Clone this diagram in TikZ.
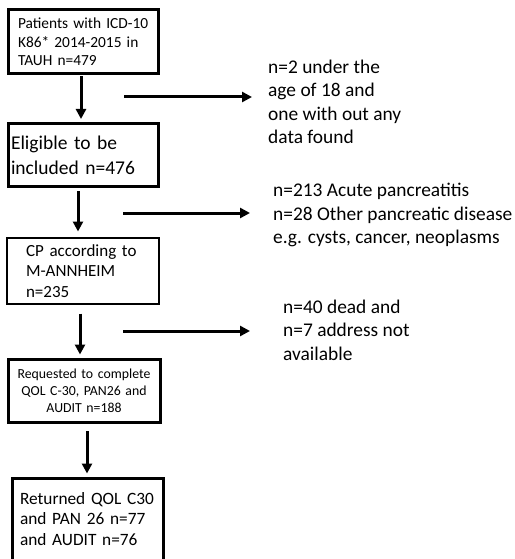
\documentclass[tikz,border=0pt]{standalone}
\usepackage{fontspec}
\setmainfont{Carlito}
\usepackage{tikz}
\usetikzlibrary{positioning,arrows.meta}

\begin{document}
\begin{tikzpicture}[x=1pt, y=-1pt,
  box/.style={draw, line width=#1, align=left, inner ysep=0pt, outer sep=0pt},
  box/.default=3pt,
  note/.style={anchor=west, align=left, inner sep=0pt, font=\fontsize{19.4}{23.5}\selectfont},
  arr/.style={-{Triangle[length=10pt,width=10pt]}, line width=3pt}]
\fill[white] (0,0) rectangle (514,559);
\useasboundingbox (0,0) rectangle (514,559);
% main flow
\node[box, text width=136pt, inner xsep=7pt, minimum height=64pt,
  font=\fontsize{15.4}{18.7}\selectfont] (pat) at (83,42)
  {\hspace*{3pt}Patients with ICD-10\\\hspace*{3pt}K86* 2014-2015 in\\\hspace*{3pt}TAUH n=479};
\node[box, text width=144pt, inner xsep=3pt, minimum height=63pt,
  font=\fontsize{19.5}{24.8}\selectfont] (elig) at (83,155)
  {Eligible to be\\included n=476};
\node[box=2.5pt, text width=114pt, inner xsep=19pt, minimum height=66pt,
  font=\fontsize{17}{20.7}\selectfont] (cp) at (83,271)
  {CP according to\\M-ANNHEIM\\n=235};
\node[box, align=center, text width=140pt, inner xsep=6pt, minimum height=63pt,
  font=\fontsize{13.8}{16.8}\selectfont] (req) at (84,390.5)
  {Requested to complete\\QOL C-30, PAN26 and\\AUDIT n=188};
\node[box, text width=135pt, inner xsep=8pt, minimum height=102pt, anchor=north,
  font=\fontsize{17.3}{20.6}\selectfont] (ret) at (87.5,478)
  {Returned QOL C30\\and PAN 26 n=77\\and AUDIT n=76\\~};
% exclusions
\node[note] (excl1) at (268,102) {n=2 under the\\age of 18 and\\one with out any\\data found};
\node[note] (excl2) at (273,215) {n=213 Acute pancreatitis\\n=28 Other pancreatic disease\\e.g. cysts, cancer, neoplasms};
\node[note] (excl3) at (283,330) {n=40 dead and\\n=7 address not\\available};
\coordinate (s1) at (124,97);
\coordinate (s2) at (123,213);
\coordinate (s3) at (123,331);
\draw[arr, shorten <=2.5pt, shorten >=4.5pt] ([xshift=-2pt]pat.south) -- ([xshift=-2pt]pat.south |- elig.north);
\draw[arr, shorten <=4.5pt, shorten >=6.5pt] ([xshift=-5pt]elig.south) -- ([xshift=-5pt]elig.south |- cp.north);
\draw[arr, shorten <=9.5pt, shorten >=4.5pt] ([xshift=-3pt]cp.south) -- ([xshift=-3pt]cp.south |- req.north);
\draw[arr, shorten <=9pt, shorten >=4.5pt] ([xshift=3pt]req.south) -- ([xshift=3pt]req.south |- ret.north);
\draw[arr, shorten >=16pt] (s1) -- (s1 -| excl1.west);
\draw[arr, shorten >=23pt] (s2) -- (s2 -| excl2.west);
\draw[arr, shorten >=33pt] (s3) -- (s3 -| excl3.west);
\end{tikzpicture}
\end{document}
